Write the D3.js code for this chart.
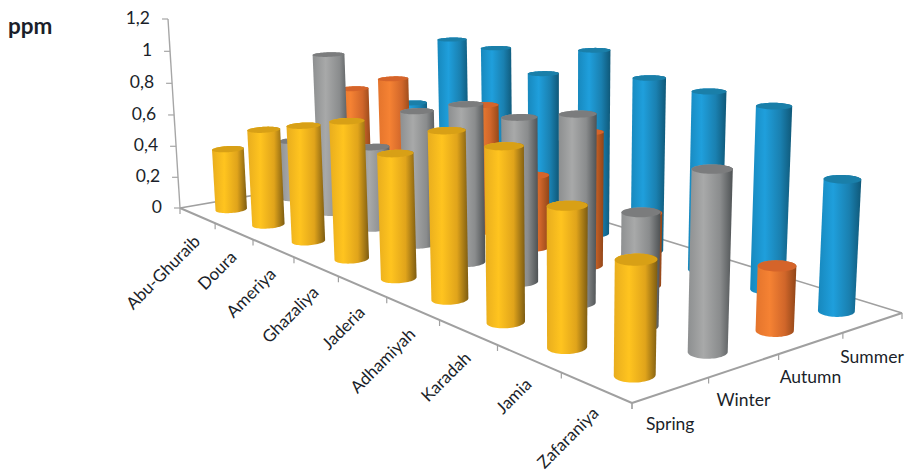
<!DOCTYPE html>
<html>
<head>
<meta charset="utf-8">
<script src="https://cdn.jsdelivr.net/npm/d3@7"></script>
<style>
  html, body { margin: 0; background: #fff; }
  text { font-family: Lato, "Noto Sans", sans-serif; fill: #1b1f2a; }
</style>
</head>
<body>
<section></section>
<script>
const categories = ['Abu-Ghuraib', 'Doura', 'Ameriya', 'Ghazaliya', 'Jaderia', 'Adhamiyah', 'Karadah', 'Jamia', 'Zafaraniya'];
const seasons = ['Spring', 'Winter', 'Autumn', 'Summer'];
const valueTicks = [0, 0.2, 0.4, 0.6, 0.8, 1, 1.2];

const spring = [0.39, 0.59, 0.69, 0.79, 0.69, 0.89, 0.89, 0.69, 0.54];
const winter = [0.38, 1.0, 0.50, 0.79, 0.90, 0.90, 0.99, 0.58, 0.88];
const autumn = [0.67, 0.80, 0.45, 0.77, 0.43, 0.76, 0.40, 0, 0.33];
const summer = [0.52, 1.01, 1.01, 0.91, 1.11, 1.01, 1.0, 0.99, 0.69];

const seasonValues = { Spring: spring, Winter: winter, Autumn: autumn, Summer: summer };

// side gradient stops and cap colour for each season
const paints = {
  Spring: { stops: ['#e8ad1e', '#ffc41f', '#e0a41b', '#7d5c12'], cap: '#d8a016' },
  Winter: { stops: ['#8d8f90', '#a8a9a9', '#8a8c8d', '#4e5254'], cap: '#7b7c7d' },
  Autumn: { stops: ['#e4742c', '#f58233', '#d0662a', '#8f4518'], cap: '#d5642a' },
  Summer: { stops: ['#1788bd', '#1f9fdc', '#1a80b0', '#0f5878'], cap: '#1a7fa9' }
};

const width = 905;
const height = 471;

// floor corners on the page: back-left, front, right, back-right
const floor = [[180, 208], [632, 403], [902, 313], [423, 166]];
const wallTop = [168, 19];          // where 1.2 sits on the value axis
const verticalVanish = [563, 6242]; // upright lines converge down here

const dx1 = floor[1][0] - floor[2][0];
const dx2 = floor[3][0] - floor[2][0];
const sx = floor[0][0] - floor[1][0] + floor[2][0] - floor[3][0];
const dy1 = floor[1][1] - floor[2][1];
const dy2 = floor[3][1] - floor[2][1];
const sy = floor[0][1] - floor[1][1] + floor[2][1] - floor[3][1];
const den = dx1 * dy2 - dx2 * dy1;
const g = (sx * dy2 - dx2 * sy) / den;
const h = (dx1 * sy - sx * dy1) / den;
const a = floor[1][0] - floor[0][0] + g * floor[1][0];
const b = floor[3][0] - floor[0][0] + h * floor[3][0];
const d = floor[1][1] - floor[0][1] + g * floor[1][1];
const e = floor[3][1] - floor[0][1] + h * floor[3][1];
const r = (wallTop[1] - floor[0][1]) / (verticalVanish[1] - wallTop[1]);

// u runs along the districts, v along the seasons, z up the value axis (all 0..1)
function project(u, v, z) {
  const w = g * u + h * v + 1 + z * r;
  return [
    (a * u + b * v + floor[0][0] + z * r * verticalVanish[0]) / w,
    (d * u + e * v + floor[0][1] + z * r * verticalVanish[1]) / w
  ];
}

const uScale = d3.scalePoint().domain(categories).range([0, 1]).padding(0.5);
const vScale = d3.scalePoint().domain(seasons).range([0, 1]).padding(0.5);
const zScale = d3.scaleLinear().domain([0, 1.2]).range([0, 1]);

const radiusU = 0.0209;
const radiusV = 0.053;
const angles = d3.range(0, 2 * Math.PI, Math.PI / 30);

function ring(category, season, z) {
  return angles.map((t) => project(
    uScale(category) + radiusU * Math.cos(t),
    vScale(season) + radiusV * Math.sin(t),
    z
  ));
}

// painter's order: last row first, then along the districts; zero readings get no cylinder
const bars = [];
seasons.slice().reverse().forEach((season) => {
  categories.forEach((category, i) => {
    let value = seasonValues[season][i];
    if (value > 0) {
      bars.push({ id: 'bar' + bars.length, category, season, value });
    }
  });
});

const line = d3.line();

let svg = d3.select('section')
  .append('svg')
  .attr('width', width)
  .attr('height', height)
  .style('display', 'block');

let defs = svg.append('defs');

// floor outline
let edges = [
  [[0, 0], [0, 1]],
  [[0, 1], [1, 1]],
  [[1, 1], [1, 0]],
  [[1, 0], [0, 0]]
];

svg.selectAll('.edge')
  .data(edges)
  .enter()
  .append('path')
  .attr('class', 'edge')
  .attr('fill', 'none')
  .attr('stroke', '#a0a0a0')
  .attr('stroke-width', (data, i) => { return i < 2 ? 1.6 : 2; })
  .attr('d', (data) => { return line(data.map((p) => project(p[0], p[1], 0))); });

// value axis
svg.append('path')
  .attr('fill', 'none')
  .attr('stroke', '#a6a6a6')
  .attr('stroke-width', 1.4)
  .attr('d', line([project(0, 0, 0), project(0, 0, 1)]));

svg.selectAll('.vtick')
  .data(valueTicks)
  .enter()
  .append('path')
  .attr('class', 'vtick')
  .attr('stroke', '#a6a6a6')
  .attr('stroke-width', 1.2)
  .attr('d', (data) => {
    let p = project(0, 0, zScale(data));
    return line([p, [p[0] - 6, p[1]]]);
  });

svg.selectAll('.vlabel')
  .data(valueTicks)
  .enter()
  .append('text')
  .attr('class', 'vlabel')
  .attr('text-anchor', 'end')
  .attr('font-size', 17.5)
  .attr('x', (data) => { return project(0, 0, zScale(data))[0] - 18; })
  .attr('y', (data) => { return project(0, 0, zScale(data))[1] + 5; })
  .text((data) => { return String(data).replace('.', ','); });

// tick marks along the two front edges
let categoryTicks = d3.range(categories.length + 1).map((i) => [i / categories.length, 0]);
let seasonTicks = d3.range(seasons.length + 1).map((i) => [1, i / seasons.length]);

svg.selectAll('.ftick')
  .data(categoryTicks.concat(seasonTicks))
  .enter()
  .append('path')
  .attr('class', 'ftick')
  .attr('stroke', '#a0a0a0')
  .attr('stroke-width', 1.2)
  .attr('d', (data) => {
    let p = project(data[0], data[1], 0);
    return line([p, [p[0], p[1] + 6]]);
  });

// one gradient per cylinder, spanning its own width
bars.forEach((bar) => {
  let z = zScale(bar.value);
  bar.top = ring(bar.category, bar.season, z);
  bar.side = d3.polygonHull(ring(bar.category, bar.season, 0).concat(bar.top));
  let xs = bar.side.map((p) => p[0]);
  let gradient = defs.append('linearGradient')
    .attr('id', bar.id)
    .attr('gradientUnits', 'userSpaceOnUse')
    .attr('x1', d3.min(xs))
    .attr('x2', d3.max(xs))
    .attr('y1', 0)
    .attr('y2', 0);
  [0, 0.35, 0.72, 1].forEach((offset, i) => {
    gradient.append('stop')
      .attr('offset', offset)
      .attr('stop-color', paints[bar.season].stops[i]);
  });
});

let cylinders = svg.selectAll('.cylinder')
  .data(bars)
  .enter()
  .append('g')
  .attr('class', 'cylinder');

cylinders.append('path')
  .attr('fill', (data) => { return 'url(#' + data.id + ')'; })
  .attr('d', (data) => { return line(data.side) + 'Z'; });

cylinders.append('path')
  .attr('fill', (data) => { return paints[data.season].cap; })
  .attr('d', (data) => { return line(data.top) + 'Z'; });

// district labels, slanted up to the right
svg.selectAll('.clabel')
  .data(categories)
  .enter()
  .append('text')
  .attr('class', 'clabel')
  .attr('text-anchor', 'end')
  .attr('font-size', 17)
  .attr('transform', (data) => {
    let p = project(uScale(data), 0, 0);
    return 'translate(' + (p[0] + 4) + ',' + (p[1] + 27) + ') rotate(-45)';
  })
  .text((data) => { return data; });

svg.selectAll('.slabel')
  .data(seasons)
  .enter()
  .append('text')
  .attr('class', 'slabel')
  .attr('text-anchor', 'middle')
  .attr('font-size', 17.5)
  .attr('x', (data) => { return project(1, vScale(data), 0)[0] - 1; })
  .attr('y', (data) => { return project(1, vScale(data), 0)[1] + 40; })
  .text((data) => { return data; });

svg.append('text')
  .attr('x', 8)
  .attr('y', 34)
  .attr('font-size', 22.5)
  .attr('font-weight', 700)
  .text('ppm');
</script>
</body>
</html>
